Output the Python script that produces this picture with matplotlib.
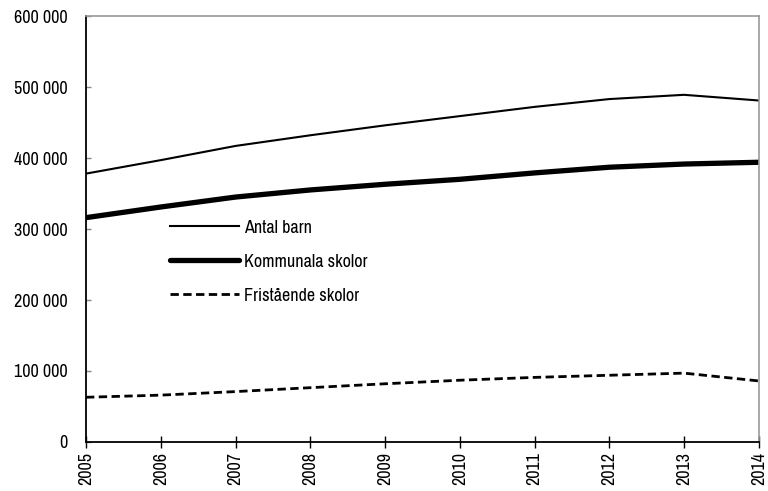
import matplotlib
matplotlib.use('Agg')
import matplotlib.pyplot as plt
from matplotlib import font_manager

years = [2005, 2006, 2007, 2008, 2009, 2010, 2011, 2012, 2013, 2014]
antal_barn = [378000, 397000, 417000, 432000, 446000, 459000, 472000, 483000, 489000, 481000]
kommunala = [316000, 331000, 345000, 355000, 363000, 370000, 379000, 387000, 391500, 394000]
fristaende = [63000, 66000, 71000, 76500, 82000, 87000, 91000, 94000, 97000, 86000]
labels = ['Antal barn', 'Kommunala skolor', 'Fristående skolor']
y_ticks = [0, 100000, 200000, 300000, 400000, 500000, 600000]
y_ticklabels = ['0', '100 000', '200 000', '300 000', '400 000', '500 000', '600 000']

# condensed face if available
names = {f.name for f in font_manager.fontManager.ttflist}
fam = [f for f in ['Archivo Narrow', 'Roboto Condensed', 'PT Sans Narrow'] if f in names][:1] + ['DejaVu Sans']
plt.rcParams['font.family'] = fam

fig = plt.figure(figsize=(7.68, 4.91), dpi=100)
ax = fig.add_axes([0.112, 0.0998, 0.876, 0.8676])

ax.plot(years, antal_barn, color='black', lw=1.5, label=labels[0])
ax.plot(years, kommunala, color='black', lw=3.8, label=labels[1], solid_capstyle='round')
ax.plot(years, fristaende, color='black', lw=2, ls=(0, (3, 1.6)), label=labels[2])

ax.set_xlim(2005, 2014)
ax.set_ylim(0, 600000)
ax.set_xticks(years)
ax.set_xticklabels([str(y) for y in years], rotation=90, fontsize=13)
ax.set_yticks(y_ticks)
ax.set_yticklabels(y_ticklabels, fontsize=13)

ax.tick_params(axis='x', direction='inout', length=9, width=1, color='black', pad=3)
ax.tick_params(axis='y', direction='in', length=3.6, width=1, color='#888888', pad=13)

for s in ['top', 'right']:
    ax.spines[s].set_color('#999999')
    ax.spines[s].set_linewidth(1.2)
for s in ['left', 'bottom']:
    ax.spines[s].set_color('black')
    ax.spines[s].set_linewidth(1.3)

ax.legend(loc='upper left', bbox_to_anchor=(0.125, 0.522), frameon=False, fontsize=13,
          handlelength=3.8, handletextpad=0.3, labelspacing=1.0, borderpad=0, borderaxespad=0)

plt.savefig('out.png', dpi=100)
